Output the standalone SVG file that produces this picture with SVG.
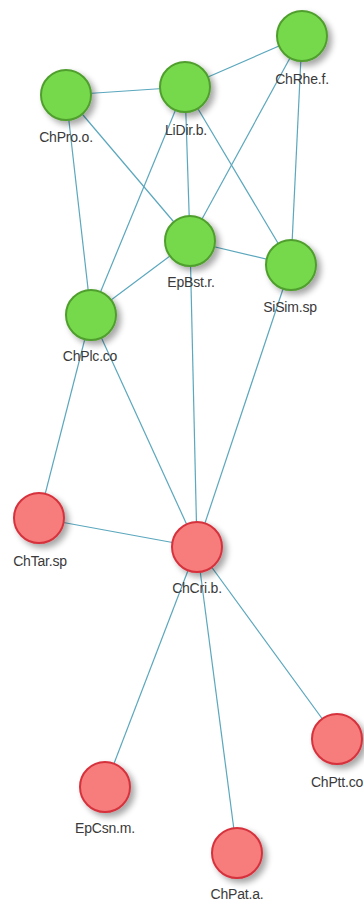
<svg xmlns="http://www.w3.org/2000/svg" width="364" height="902" viewBox="0 0 364 902">
<defs>
<filter id="sh" x="-50%" y="-50%" width="200%" height="200%">
<feGaussianBlur in="SourceAlpha" stdDeviation="3"/>
<feOffset dx="4" dy="4" result="b"/>
<feComponentTransfer><feFuncA type="linear" slope="0.35"/></feComponentTransfer>
<feMerge><feMergeNode/><feMergeNode in="SourceGraphic"/></feMerge>
</filter>
</defs>
<style>
.e{stroke:#5ba7bd;stroke-width:1.2;fill:none}
.g{fill:#76d94b;stroke:#4f9e2d;stroke-width:2}
.r{fill:#f77b7b;stroke:#d6323c;stroke-width:2}
text{font-family:"Liberation Sans",Arial,sans-serif;font-size:14px;fill:#3a3a3a;text-anchor:middle;letter-spacing:-0.2px}
</style>
<rect width="364" height="902" fill="#fff"/>
<g id="connectors">
<line class="e" x1="66" y1="95" x2="185" y2="87"/>
<line class="e" x1="185" y1="87" x2="302" y2="36"/>
<line class="e" x1="66" y1="95" x2="91" y2="315"/>
<line class="e" x1="66" y1="95" x2="190" y2="241"/>
<line class="e" x1="185" y1="87" x2="91" y2="315"/>
<line class="e" x1="185" y1="87" x2="190" y2="241"/>
<line class="e" x1="185" y1="87" x2="291" y2="265"/>
<line class="e" x1="302" y1="36" x2="190" y2="241"/>
<line class="e" x1="302" y1="36" x2="291" y2="265"/>
<line class="e" x1="190" y1="241" x2="291" y2="265"/>
<line class="e" x1="190" y1="241" x2="91" y2="315"/>
<line class="e" x1="190" y1="241" x2="197" y2="547"/>
<line class="e" x1="291" y1="265" x2="197" y2="547"/>
<line class="e" x1="91" y1="315" x2="39" y2="518"/>
<line class="e" x1="91" y1="315" x2="197" y2="547"/>
<line class="e" x1="39" y1="518" x2="197" y2="547"/>
<line class="e" x1="197" y1="547" x2="105" y2="787"/>
<line class="e" x1="197" y1="547" x2="237" y2="853"/>
<line class="e" x1="197" y1="547" x2="337" y2="739"/>
</g>
<g id="ChPro.o"><circle class="g" cx="66" cy="95" r="25" filter="url(#sh)"/><text x="66" y="142">ChPro.o.</text></g>
<g id="LiDir.b"><circle class="g" cx="185" cy="87" r="25" filter="url(#sh)"/><text x="186" y="135">LiDir.b.</text></g>
<g id="ChRhe.f"><circle class="g" cx="302" cy="36" r="25" filter="url(#sh)"/><text x="302" y="84">ChRhe.f.</text></g>
<g id="EpBst.r"><circle class="g" cx="190" cy="241" r="25" filter="url(#sh)"/><text x="191" y="287">EpBst.r.</text></g>
<g id="SiSim.sp"><circle class="g" cx="291" cy="265" r="25" filter="url(#sh)"/><text x="290" y="312">SiSim.sp</text></g>
<g id="ChPlc.co"><circle class="g" cx="91" cy="315" r="25" filter="url(#sh)"/><text x="90" y="361">ChPlc.co</text></g>
<g id="ChTar.sp"><circle class="r" cx="39" cy="518" r="25" filter="url(#sh)"/><text x="40" y="566">ChTar.sp</text></g>
<g id="ChCri.b"><circle class="r" cx="197" cy="547" r="25" filter="url(#sh)"/><text x="197" y="593">ChCri.b.</text></g>
<g id="ChPtt.co"><circle class="r" cx="337" cy="739" r="25" filter="url(#sh)"/><text x="337" y="787">ChPtt.co</text></g>
<g id="EpCsn.m"><circle class="r" cx="105" cy="787" r="25" filter="url(#sh)"/><text x="105" y="833">EpCsn.m.</text></g>
<g id="ChPat.a"><circle class="r" cx="237" cy="853" r="25" filter="url(#sh)"/><text x="237" y="899">ChPat.a.</text></g>
</svg>
